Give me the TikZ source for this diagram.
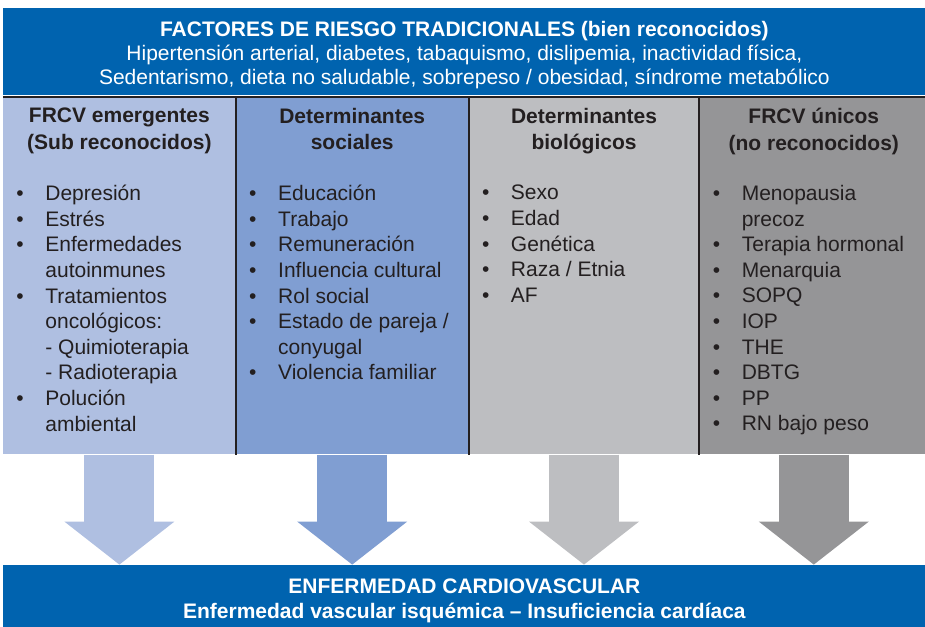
\documentclass[tikz,border=0pt]{standalone}
\usepackage{fontspec}
\setmainfont{Liberation Sans}
\usetikzlibrary{arrows.meta,positioning}
\definecolor{BannerBlue}{HTML}{0063AF}
\definecolor{EmergBlue}{HTML}{AFBFE1}
\definecolor{SocialBlue}{HTML}{809ED2}
\definecolor{BioGray}{HTML}{BDBEC1}
\definecolor{UniqueGray}{HTML}{959597}
\definecolor{InkDark}{HTML}{231F20}
\newcommand{\itm}{\makebox[14.5pt][l]{\textbullet}}
\newcommand{\cont}{\hspace*{14.5pt}}

\begin{document}
\begin{tikzpicture}[
        x=0.5pt,y=-0.5pt,
        banner/.style={fill=BannerBlue,text=white,inner sep=0pt,minimum width=461pt,align=center},
        colbox/.style={inner sep=0pt,minimum height=178.5pt},
        colhead/.style={inner sep=0pt,align=center,text=InkDark,execute at begin node=\strut,font=\fontsize{10.5}{13.3}\selectfont\bfseries},
        items/.style={inner sep=0pt,align=left,text=InkDark,execute at begin node=\strut,font=\fontsize{10.5}{12.8}\selectfont},
        divider/.style={draw=InkDark,line width=1pt},
        flow/.style={line width=35pt,-{Triangle[length=21.5pt,width=55pt,line width=0pt]}}
      ]
        \useasboundingbox (0,0) rectangle (925,626);
        \node[banner,minimum height=43.5pt,anchor=north west,font=\fontsize{10.5}{12}\selectfont] (trad) at (3,8)
          {\rule{0pt}{11pt}\textbf{FACTORES DE RIESGO TRADICIONALES (bien reconocidos)}\\Hipertensión arterial, diabetes, tabaquismo, dislipemia, inactividad física,\\Sedentarismo, dieta no saludable, sobrepeso / obesidad, síndrome metabólico};
        \node[colbox,fill=EmergBlue,minimum width=116pt,below=0.5pt of trad.south west,anchor=north west] (emerg) {};
        \node[colbox,fill=SocialBlue,minimum width=116pt,right=0pt of emerg] (social) {};
        \node[colbox,fill=BioGray,minimum width=115pt,right=0pt of social] (bio) {};
        \node[colbox,fill=UniqueGray,minimum width=114pt,right=0pt of bio] (unique) {};
        \draw[divider] (emerg.north west)--(unique.north east);
        \foreach \c in {emerg,social,bio}
          \draw[divider] (\c.north east)--(\c.south east);
        \node[colhead,below=5.4pt of emerg.north] (emerghd) {FRCV emergentes\\(Sub reconocidos)};
        \node[colhead,below=5.4pt of social.north] (socialhd) {Determinantes\\sociales};
        \node[colhead,below=5.4pt of bio.north] (biohd) {Determinantes\\biológicos};
        \node[colhead,below=5.4pt of unique.north] (uniquehd) {FRCV únicos\\(no reconocidos)};
        \node[items,below right=44pt and 6.5pt of emerg.north west] (emerglist)
          {\itm Depresión\\\itm Estrés\\\itm Enfermedades\\\cont autoinmunes\\\itm Tratamientos\\\cont oncológicos:\\\cont - Quimioterapia\\\cont - Radioterapia\\\itm Polución\\\cont ambiental};
        \node[items,below right=44pt and 6.5pt of social.north west] (sociallist)
          {\itm Educación\\\itm Trabajo\\\itm Remuneración\\\itm Influencia cultural\\\itm Rol social\\\itm Estado de pareja /\\\cont conyugal\\\itm Violencia familiar};
        \node[items,below right=44pt and 6.5pt of bio.north west] (biolist)
          {\itm Sexo\\\itm Edad\\\itm Genética\\\itm Raza / Etnia\\\itm AF};
        \node[items,below right=44pt and 6.5pt of unique.north west] (uniquelist)
          {\itm Menopausia\\\cont precoz\\\itm Terapia hormonal\\\itm Menarquia\\\itm SOPQ\\\itm IOP\\\itm THE\\\itm DBTG\\\itm PP\\\itm RN bajo peso};
        \node[banner,minimum height=31.5pt,below=55pt of emerg.south west,anchor=north west,font=\fontsize{10.5}{12.5}\selectfont\bfseries] (cvd)
          {\rule{0pt}{11.5pt}ENFERMEDAD CARDIOVASCULAR\\Enfermedad vascular isquémica -- Insuficiencia cardíaca};
        \draw[flow,EmergBlue] (emerg.south)--(emerg.south |- cvd.north);
        \draw[flow,SocialBlue] (social.south)--(social.south |- cvd.north);
        \draw[flow,BioGray] (bio.south)--(bio.south |- cvd.north);
        \draw[flow,UniqueGray] (unique.south)--(unique.south |- cvd.north);
      \end{tikzpicture}
\end{document}
